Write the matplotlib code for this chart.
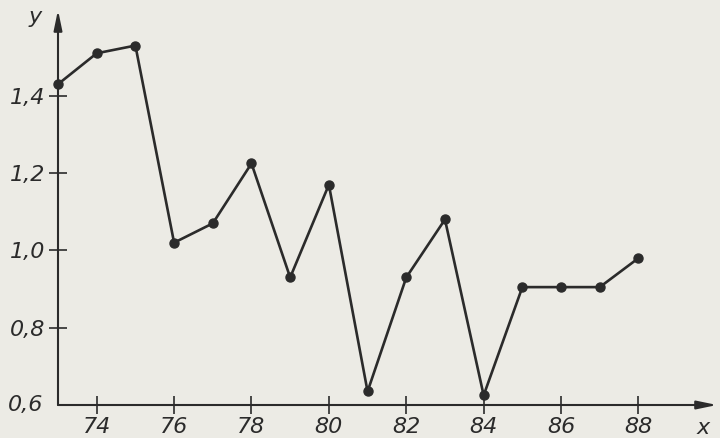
import matplotlib
matplotlib.use("Agg")
import matplotlib.pyplot as plt

years = [73, 74, 75, 76, 77, 78, 79, 80, 81, 82, 83, 84, 85, 86, 87, 88]
values = [1.43, 1.51, 1.53, 1.02, 1.07, 1.225, 0.93, 1.17, 0.635, 0.93, 1.08, 0.625, 0.905, 0.905, 0.905, 0.98]
xticks = [74, 76, 78, 80, 82, 84, 86, 88]
xtick_labels = ["74", "76", "78", "80", "82", "84", "86", "88"]
yticks = [0.8, 1.0, 1.2, 1.4]
ytick_labels = ["0,8", "1,0", "1,2", "1,4"]

bg = "#ecebe5"
ink = "#2b2b2b"
font = dict(family=["Liberation Sans Narrow", "DejaVu Sans"], style="italic", size=16, color=ink)

fig = plt.figure(figsize=(7.2, 4.38), dpi=100, facecolor=bg)
ax = fig.add_axes([58/720, 33/438, 659/720, 395/438], facecolor=bg)
ax.set_xlim(73, 90.03)
ax.set_ylim(0.6, 1.622)

ax.plot(years, values, color=ink, lw=1.9, marker="o", ms=6.5, mfc=ink, mec=ink, clip_on=False, zorder=3)

for s in ax.spines.values():
    s.set_visible(False)

ax.annotate("", xy=(1.0, 0), xycoords="axes fraction", xytext=(0, 0),
            arrowprops=dict(arrowstyle="-|>,head_length=1.2,head_width=0.25", color=ink, lw=1.5,
                            shrinkA=0, shrinkB=0))
ax.annotate("", xy=(0, 1.0), xycoords="axes fraction", xytext=(0, 0),
            arrowprops=dict(arrowstyle="-|>,head_length=1.2,head_width=0.25", color=ink, lw=1.5,
                            shrinkA=0, shrinkB=0))

ax.set_xticks(xticks)
ax.set_xticklabels(xtick_labels, **font)
ax.set_yticks(yticks)
ax.set_yticklabels(ytick_labels, **font)
ax.tick_params(axis="both", direction="inout", length=13, width=1.2, color=ink)
ax.tick_params(axis="x", pad=2)
ax.tick_params(axis="y", pad=3)

ax.text(-0.023, 0.0, "0,6", transform=ax.transAxes, ha="right", va="center", **font)
fig.text(35/720, 1 - 17/438, "y", ha="center", va="center", **font)
fig.text(703/720, 1 - 428/438, "x", ha="center", va="center", **font)

fig.savefig("out.png", dpi=100, facecolor=bg)
